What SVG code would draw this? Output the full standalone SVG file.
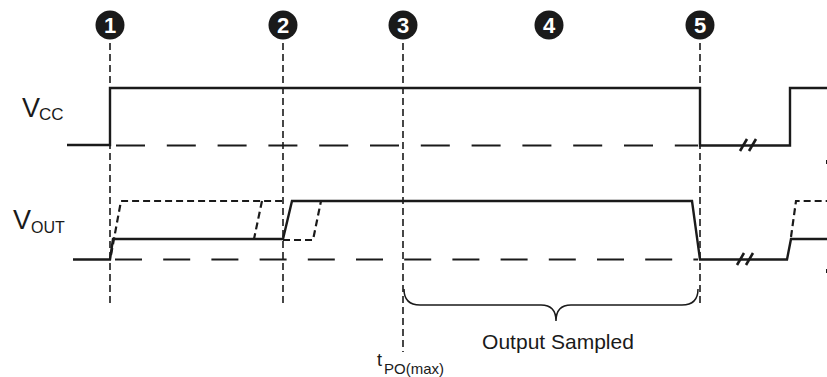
<svg xmlns="http://www.w3.org/2000/svg" width="827" height="377" viewBox="0 0 827 377">
<style>
.bg{fill:#fff}
.num{fill:#1a1a1a}
.numt{fill:#fff;font-family:"Liberation Sans",Arial,sans-serif;font-weight:bold;font-size:22px;text-anchor:middle}
.lbl{fill:#1a1a1a;font-family:"Liberation Sans",Arial,sans-serif}
.vline{stroke:#1a1a1a;stroke-width:1.6;stroke-dasharray:7 4;fill:none}
.wave{stroke:#1a1a1a;stroke-width:2.4;fill:none;stroke-linejoin:miter}
.alt{stroke:#1a1a1a;stroke-width:2.2;fill:none;stroke-dasharray:7 4}
.base{stroke:#1a1a1a;stroke-width:2;fill:none}
.brk{stroke:#1a1a1a;stroke-width:2.6;fill:none}
.brace{stroke:#1a1a1a;stroke-width:1.5;fill:none}
</style>
<rect class="bg" x="0" y="0" width="827" height="377"/>

<g id="markers">
  <g id="m1"><circle class="num" cx="110" cy="25" r="14.5"/><text class="numt" x="110" y="33">1</text></g>
  <g id="m2"><circle class="num" cx="283" cy="25" r="14.5"/><text class="numt" x="283" y="33">2</text></g>
  <g id="m3"><circle class="num" cx="403" cy="25" r="14.5"/><text class="numt" x="403" y="33">3</text></g>
  <g id="m4"><circle class="num" cx="549" cy="25" r="14.5"/><text class="numt" x="549" y="33">4</text></g>
  <g id="m5"><circle class="num" cx="700" cy="25" r="14.5"/><text class="numt" x="700" y="33">5</text></g>
</g>

<g id="connectors">
  <line class="vline" x1="110" y1="43" x2="110" y2="306"/>
  <line class="vline" x1="283" y1="43" x2="283" y2="306"/>
  <line class="vline" x1="403" y1="43" x2="403" y2="352"/>
  <line class="vline" x1="700" y1="43" x2="700" y2="306"/>
</g>

<g id="vcc">
  <text class="lbl" x="22" y="117" font-size="27">V</text>
  <text class="lbl" x="39" y="120" font-size="17">CC</text>
  <line class="base" x1="116" y1="145.5" x2="698" y2="145.5" stroke-dasharray="29 21.8"/>
  <polyline class="wave" points="67,145 110,145 110,88 700,88 700,145.5 790,145.5 790,88 827,88"/>
  <line class="brk" x1="740" y1="151" x2="747" y2="139"/>
  <line class="brk" x1="749" y1="151" x2="756" y2="139"/>
</g>

<g id="vout">
  <text class="lbl" x="13" y="229" font-size="27">V</text>
  <text class="lbl" x="31" y="233" font-size="16">OUT</text>
  <line class="base" x1="115" y1="259.5" x2="698" y2="259.5" stroke-dasharray="27 21.2"/>
  <polyline class="alt" points="111,255 121,201 283,201"/>
  <polyline class="alt" points="262,201 254,239"/>
  <polyline class="alt" points="283,240 313,240 321,201"/>
  <polyline class="wave" points="73,259.5 110,259.5 113,239 283,239 292,201 692,201 700,259.5 787,259.5 791,239 827,239"/>
  <polyline class="alt" points="791,237 796,201 827,201"/>
  <line class="brk" x1="737" y1="265" x2="744" y2="253"/>
  <line class="brk" x1="746" y1="265" x2="753" y2="253"/>
</g>

<g id="sampled">
  <path class="brace" d="M404,289 Q404,305 420,305 L541,305 Q556,305 556,321 Q556,305 571,305 L682,305 Q698,305 698,289"/>
  <text class="lbl" x="558" y="349" font-size="21" text-anchor="middle">Output Sampled</text>
</g>

<g id="tpo">
  <text class="lbl" x="377" y="366" font-size="18">t</text>
  <text class="lbl" x="384" y="374" font-size="15">PO(max)</text>
</g>

<line x1="826.5" y1="160" x2="826.5" y2="164" stroke="#1a1a1a" stroke-width="1"/>
<line x1="826.5" y1="269" x2="826.5" y2="273" stroke="#1a1a1a" stroke-width="1"/>
</svg>
